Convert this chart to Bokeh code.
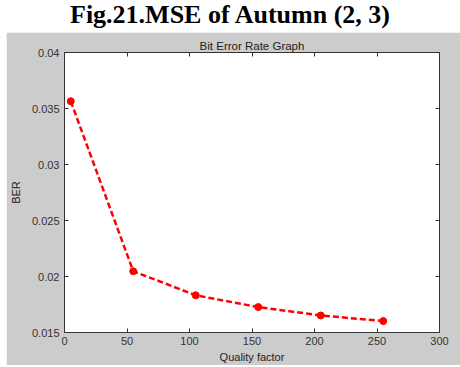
from bokeh.plotting import figure
from bokeh.models import Range1d, LinearAxis, FixedTicker, Div, ColumnDataSource
from bokeh.layouts import column
from bokeh.embed import file_html
from bokeh.resources import INLINE

# Data
quality = [5, 55, 105, 155, 205, 255]
ber = [0.03565, 0.02047, 0.01832, 0.01727, 0.01652, 0.01602]

x_ticks = [0, 50, 100, 150, 200, 250, 300]
y_ticks = [0.015, 0.02, 0.025, 0.03, 0.035, 0.04]
y_tick_labels = ["0.015", "0.02", "0.025", "0.03", "0.035", "0.04"]

main_title = "Fig.21.MSE of Autumn (2, 3)"
plot_title = "Bit Error Rate Graph"
x_label = "Quality factor"
y_label = "BER"

GRAY = "#cccccc"
AX = "#333333"
FONT = "Liberation Sans"

p = figure(width=454, height=333, output_backend="svg", toolbar_location=None,
           x_range=Range1d(0, 300), y_range=Range1d(0.015, 0.04),
           min_border_left=53, min_border_right=21, min_border_top=20, min_border_bottom=33,
           border_fill_color=GRAY, background_fill_color="white",
           margin=(0, 0, 2, 6))
p.grid.visible = False
p.outline_line_color = AX
p.outline_line_width = 1

p.title.text = plot_title
p.title.align = "center"
p.title.text_font = FONT
p.title.text_font_size = "11.5px"
p.title.text_font_style = "normal"
p.title.text_color = "#222222"
p.title.standoff = 2

src = ColumnDataSource(dict(x=quality, y=ber))
p.line("x", "y", source=src, line_color="#ff0000", line_width=2.5, line_dash="6 3")
p.scatter("x", "y", source=src, size=7, fill_color="#ff0000", line_color="#ff0000")

def style_axis(ax, ticks, labels=None, show=True):
    ax.ticker = FixedTicker(ticks=ticks)
    ax.axis_line_color = AX
    ax.major_tick_line_color = AX
    ax.major_tick_in = 4
    ax.major_tick_out = 0
    ax.minor_tick_line_color = None
    ax.major_label_text_font = FONT
    ax.major_label_text_font_size = "11px"
    ax.major_label_text_color = "#333333"
    ax.axis_label_text_font = FONT
    ax.axis_label_text_font_size = "11px"
    ax.axis_label_text_font_style = "normal"
    ax.axis_label_text_color = "#222222"
    if labels is not None:
        ax.major_label_overrides = {t: l for t, l in zip(ticks, labels)}
    if not show:
        ax.major_label_overrides = {t: "" for t in ticks}
        ax.major_label_standoff = 0
        ax.major_label_text_font_size = "0px"

xa = p.xaxis[0]
style_axis(xa, x_ticks)
xa.axis_label = x_label
xa.major_label_standoff = 4
xa.axis_label_standoff = 3

ya = p.yaxis[0]
style_axis(ya, y_ticks, y_tick_labels)
ya.axis_label = y_label
ya.major_label_standoff = 5
ya.axis_label_standoff = 7

top = LinearAxis()
style_axis(top, x_ticks, show=False)
p.add_layout(top, "above")
right = LinearAxis()
style_axis(right, y_ticks, show=False)
p.add_layout(right, "right")

div = Div(text=main_title, width=460, height=32, margin=(0, 0, 0, 0),
          styles={"font-family": "Liberation Serif", "font-weight": "bold",
                  "font-size": "26px", "text-align": "center", "line-height": "30px",
                  "color": "black", "width": "460px"})

layout = column(div, p, spacing=0, margin=(0, 0, 0, 0))
open("out.html", "w").write(file_html(layout, INLINE))
